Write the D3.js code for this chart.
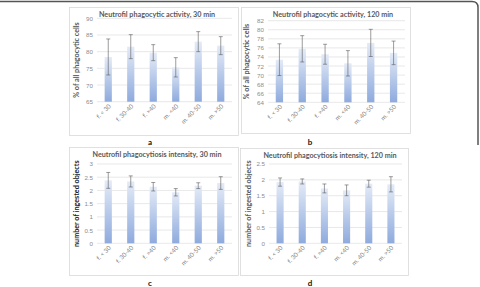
<!DOCTYPE html>
<html>
<head>
<meta charset="utf-8">
<script src="https://cdn.jsdelivr.net/npm/d3@7"></script>
<style>
  body { margin: 0; background: #fff; }
  svg { display: block; font-family: Lato, "Liberation Sans", sans-serif; }
</style>
</head>
<body>
<div id="chart"></div>
<script>
var width = 480,
    height = 287;

// data
var categories = ["f. < 30", "f. 30-40", "f. >40", "m. <40", "m. 40-50", "m. >50"];

var activity30 = [78.4, 81.5, 79.7, 75.3, 83.0, 81.8];
var activity30Err = [5.4, 3.6, 2.4, 2.9, 3.0, 2.7];

var activity120 = [73.4, 75.8, 74.6, 72.6, 77.1, 74.9];
var activity120Err = [3.5, 2.9, 2.2, 2.8, 3.0, 2.6];

var intensity30 = [2.38, 2.34, 2.14, 1.93, 2.18, 2.28];
var intensity30Err = [0.30, 0.21, 0.16, 0.14, 0.11, 0.24];

var intensity120 = [1.93, 1.95, 1.73, 1.67, 1.88, 1.86];
var intensity120Err = [0.13, 0.08, 0.14, 0.17, 0.11, 0.24];

var panels = [
  { letter: "a", title: "Neutrofil phagocytic activity, 30 min", ylabel: "% of all phagocytic cells",
    values: activity30, errors: activity30Err, domain: [65, 90], step: 5,
    frame: {x: 69, y: 7, w: 169, h: 128}, plot: {x0: 97, x1: 232, y0: 101.7, y1: 18.3},
    titleX: 157, labelX: 76, letterPos: [150, 145] },
  { letter: "b", title: "Neutrofil phagocytic activity, 120 min", ylabel: "% of all phagocytic cells",
    values: activity120, errors: activity120Err, domain: [64, 82], step: 2,
    frame: {x: 241, y: 7, w: 169, h: 126}, plot: {x0: 268, x1: 405, y0: 102.3, y1: 20.7},
    titleX: 333, labelX: 246, letterPos: [310, 145] },
  { letter: "c", title: "Neutrofil phagocytiosis intensity, 30 min", ylabel: "number of ingested objects",
    values: intensity30, errors: intensity30Err, domain: [0, 3], step: 0.5,
    frame: {x: 69, y: 147, w: 169, h: 128}, plot: {x0: 97, x1: 232, y0: 243.3, y1: 164},
    titleX: 157, labelX: 76, letterPos: [150, 286], dark: true },
  { letter: "d", title: "Neutrofil phagocytiosis intensity, 120 min", ylabel: "number of ingested objects",
    values: intensity120, errors: intensity120Err, domain: [0, 2.5], step: 0.5,
    frame: {x: 240, y: 148, w: 168, h: 127}, plot: {x0: 269, x1: 402, y0: 243.3, y1: 164},
    titleX: 330, labelX: 248, letterPos: [310, 286] }
];

var svg = d3.select("#chart").append("svg")
    .attr("width", width)
    .attr("height", height);

var defs = svg.append("defs");
var grad = defs.append("linearGradient")
    .attr("id", "barfill")
    .attr("x1", 0).attr("y1", 0).attr("x2", 0).attr("y2", 1);
grad.append("stop").attr("offset", "0%").attr("stop-color", "#e4ebf7");
grad.append("stop").attr("offset", "100%").attr("stop-color", "#8eaadd");

// outer figure border (cropped at the top/right)
svg.append("path")
    .attr("d", "M0,1.5 H472 Q478,1.5 478,7.5 V145")
    .attr("fill", "none")
    .attr("stroke", "#555")
    .attr("stroke-width", 1.5);

panels.forEach(function(p) {
  var g = svg.append("g");

  g.append("rect")
    .attr("x", p.frame.x + 0.5).attr("y", p.frame.y + 0.5)
    .attr("width", p.frame.w).attr("height", p.frame.h)
    .attr("fill", "#fff")
    .attr("stroke", "#d9d9d9")
    .attr("stroke-width", 0.8);

  var x = d3.scaleBand()
      .domain(categories)
      .range([p.plot.x0, p.plot.x1])
      .paddingInner(0.68)
      .paddingOuter(0.34);

  var y = d3.scaleLinear()
      .domain(p.domain)
      .range([p.plot.y0, p.plot.y1]);

  var ticks = d3.range(p.domain[0], p.domain[1] + p.step / 2, p.step);

  // gridlines
  g.selectAll("line.grid").data(ticks).enter().append("line")
    .attr("class", "grid")
    .attr("x1", p.plot.x0).attr("x2", p.plot.x1)
    .attr("y1", function(d) { return y(d); })
    .attr("y2", function(d) { return y(d); })
    .attr("stroke", "#d9d9d9")
    .attr("stroke-width", 0.6);

  // y axis, only labels
  var yAxis = d3.axisLeft(y).tickValues(ticks).tickSize(0).tickPadding(4)
      .tickFormat(function(d) { return String(+d.toFixed(1)); });
  var ya = g.append("g")
      .attr("transform", "translate(" + p.plot.x0 + ",0)")
      .call(yAxis);
  ya.select(".domain").remove();
  ya.selectAll("text")
    .attr("font-size", 6.2)
    .attr("fill", "#8c8c8c")
    .attr("font-family", null);

  // bars
  g.selectAll("rect.bar").data(p.values).enter().append("rect")
    .attr("class", "bar")
    .attr("x", function(d, i) { return x(categories[i]); })
    .attr("width", x.bandwidth())
    .attr("y", function(d) { return y(d); })
    .attr("height", function(d) { return y(p.domain[0]) - y(d); })
    .attr("fill", "url(#barfill)");

  // error bars
  var err = g.selectAll("g.err").data(p.values).enter().append("g")
    .attr("class", "err")
    .attr("stroke", "#5a5a5a")
    .attr("stroke-width", 0.6);
  err.append("line")
    .attr("x1", function(d, i) { return x(categories[i]) + x.bandwidth() / 2; })
    .attr("x2", function(d, i) { return x(categories[i]) + x.bandwidth() / 2; })
    .attr("y1", function(d, i) { return y(d + p.errors[i]); })
    .attr("y2", function(d, i) { return y(d - p.errors[i]); });
  [1, -1].forEach(function(sgn) {
    err.append("line")
      .attr("x1", function(d, i) { return x(categories[i]) + x.bandwidth() / 2 - 2; })
      .attr("x2", function(d, i) { return x(categories[i]) + x.bandwidth() / 2 + 2; })
      .attr("y1", function(d, i) { return y(d + sgn * p.errors[i]); })
      .attr("y2", function(d, i) { return y(d + sgn * p.errors[i]); });
  });

  // x labels, rotated
  g.selectAll("text.xl").data(categories).enter().append("text")
    .attr("class", "xl")
    .attr("transform", function(d) {
      return "translate(" + (x(d) + x.bandwidth() / 2 + 3) + "," + (p.plot.y0 + 5) + ") rotate(-45)";
    })
    .attr("text-anchor", "end")
    .attr("font-size", 6.2)
    .attr("fill", "#7f7f7f")
    .text(function(d) { return d; });

  // title
  g.append("text")
    .attr("x", p.titleX).attr("y", p.frame.y + 9.5)
    .attr("text-anchor", "middle")
    .attr("font-size", 7.2)
    .attr("font-weight", "bold")
    .attr("fill", "#595959")
    .text(p.title);

  // y axis title
  g.append("text")
    .attr("transform", "translate(" + p.labelX + "," + ((p.plot.y0 + p.plot.y1) / 2) + ") rotate(-90)")
    .attr("text-anchor", "middle")
    .attr("dy", "0.35em")
    .attr("font-size", 7.2)
    .attr("font-weight", "bold")
    .attr("fill", p.dark ? "#222" : "#595959")
    .text(p.ylabel);

  // panel letter
  svg.append("text")
    .attr("x", p.letterPos[0]).attr("y", p.letterPos[1])
    .attr("text-anchor", "middle")
    .attr("font-size", 8)
    .attr("font-weight", "bold")
    .attr("fill", "#111")
    .text(p.letter);
});
</script>
</body>
</html>
